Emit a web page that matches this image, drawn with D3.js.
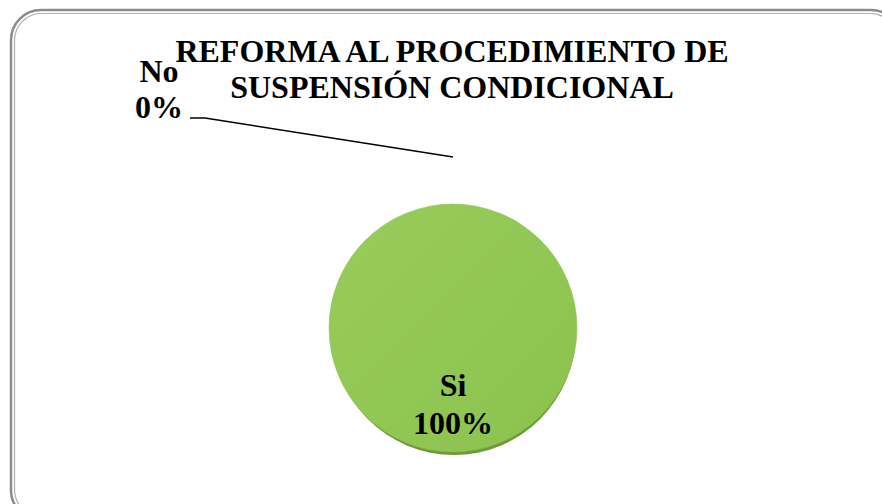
<!DOCTYPE html>
<html>
<head>
<meta charset="utf-8">
<script src="https://cdn.jsdelivr.net/npm/d3@7"></script>
<style>
body { margin: 0; background: #fff; }
svg { display: block; }
</style>
</head>
<body>
<script>
// chart data
var categories = ['Si', 'No'];
var values = [100, 0];
var title_lines = ['REFORMA AL PROCEDIMIENTO DE', 'SUSPENSIÓN CONDICIONAL'];

var width = 882, height = 504;
var cx = 453, cy = 328, radius = 124;

var svg = d3.select('body').append('svg')
	.attr('width', width)
	.attr('height', height);

var defs = svg.append('defs');
var grad = defs.append('linearGradient').attr('id', 'green')
	.attr('x1', '0%').attr('y1', '0%').attr('x2', '100%').attr('y2', '100%');
grad.append('stop').attr('offset', '0%').attr('stop-color', '#98cc5c');
grad.append('stop').attr('offset', '100%').attr('stop-color', '#8bc24d');

// frame (double grey rounded border, cut at right/bottom)
svg.append('rect').attr('x', 11).attr('y', 10).attr('width', 890).attr('height', 510)
	.attr('rx', 30).attr('fill', 'none').attr('stroke', '#8c8c8c').attr('stroke-width', 2.5);
svg.append('rect').attr('x', 14.5).attr('y', 13.5).attr('width', 883).attr('height', 503)
	.attr('rx', 27).attr('fill', 'none').attr('stroke', '#b0b0b0').attr('stroke-width', 1.2);

var total = d3.sum(values);
var pie = d3.pie().sort(null).value(function(d){ return d.value; });
var arcs = pie(categories.map(function(c, i){ return {name: c, value: values[i]}; }));
var arc = d3.arc().innerRadius(0).outerRadius(radius);

var g = svg.append('g').attr('transform', 'translate(' + cx + ',' + cy + ')');

// 3d edge under the pie
g.append('ellipse').attr('cx', 1).attr('cy', 4).attr('rx', radius - 2).attr('ry', radius - 1)
	.attr('fill', '#6f9a3a');

g.selectAll('path.slice')
	.data(arcs)
	.enter()
	.append('path')
	.attr('class', 'slice')
	.attr('d', arc)
	.attr('fill', 'url(#green)')
	.attr('stroke', function(d){ return d.value > 0 ? '#8bc24d' : 'none'; })
	.attr('stroke-width', 0.5);

// labels
var font = 'Times New Roman, Liberation Serif, serif';
arcs.forEach(function(d){
	var pct = Math.round(d.value / total * 100) + '%';
	if(d.value > 0){
		var t = g.append('text').attr('text-anchor', 'middle')
			.attr('font-family', font).attr('font-weight', 'bold').attr('font-size', '32px')
			.attr('fill', '#000');
		t.append('tspan').attr('x', 0).attr('y', 68).text(d.data.name);
		t.append('tspan').attr('x', 0).attr('y', 106).text(pct);
	}
	else{
		// leader line from slice edge out to the label
		var a = d.startAngle;
		var p = [Math.sin(a) * (radius + 47), -Math.cos(a) * (radius + 47)];
		var lx = -263, ly = -210;
		g.append('path')
			.attr('d', 'M' + p[0] + ',' + p[1] + 'L' + (lx + 15) + ',' + ly + 'L' + lx + ',' + ly)
			.attr('fill', 'none').attr('stroke', '#000').attr('stroke-width', 1.6);
		var t2 = g.append('text').attr('text-anchor', 'middle')
			.attr('font-family', font).attr('font-weight', 'bold').attr('font-size', '32px')
			.attr('fill', '#000');
		t2.append('tspan').attr('x', -294).attr('y', -246).text(d.data.name);
		t2.append('tspan').attr('x', -294).attr('y', -210).text(pct);
	}
});

// title
var title = svg.append('text').attr('text-anchor', 'middle')
	.attr('font-family', font).attr('font-weight', 'bold').attr('font-size', '32px')
	.attr('fill', '#000');
title.selectAll('tspan').data(title_lines).enter().append('tspan')
	.attr('x', 452).attr('y', function(d, i){ return 62 + i * 36; })
	.text(function(d){ return d; });
</script>
</body>
</html>
